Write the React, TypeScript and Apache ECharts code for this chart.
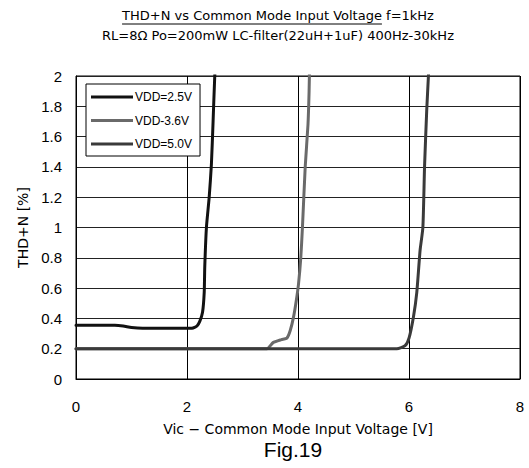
import React, { useEffect, useRef } from "react";
import * as echarts from "echarts";

const titleMain = "THD+N vs Common Mode Input Voltage";
const titleTail = " f=1kHz";
const subTitle = "RL=8Ω Po=200mW LC-filter(22uH+1uF) 400Hz-30kHz";
const xAxisName = "Vic − Common Mode Input Voltage [V]";
const yAxisName = "THD+N [%]";
const figLabel = "Fig.19";

const seriesNames = ["VDD=2.5V", "VDD-3.6V", "VDD=5.0V"];

const v25X = [0, 0.7, 0.85, 1.0, 1.2, 2.05, 2.11, 2.18, 2.23, 2.28, 2.31, 2.32, 2.35, 2.4, 2.44, 2.47, 2.5, 2.52];
const v25Y = [0.355, 0.355, 0.35, 0.34, 0.335, 0.335, 0.337, 0.35, 0.38, 0.44, 0.57, 0.74, 1.0, 1.2, 1.42, 1.7, 2.0, 2.1];

const v36X = [0, 3.44, 3.55, 3.7, 3.8, 3.86, 3.92, 3.97, 4.01, 4.05, 4.08, 4.13, 4.18, 4.2, 4.21];
const v36Y = [0.2, 0.2, 0.24, 0.26, 0.27, 0.32, 0.41, 0.52, 0.63, 0.8, 1.0, 1.4, 1.68, 1.9, 2.1];

const v50X = [0, 5.78, 5.93, 6.0, 6.08, 6.14, 6.2, 6.25, 6.28, 6.32, 6.35, 6.36];
const v50Y = [0.2, 0.2, 0.22, 0.27, 0.41, 0.57, 0.85, 1.0, 1.4, 1.78, 2.0, 2.1];

const seriesColors = ["#111111", "#6a6a6a", "#3a3a3a"];

const zip = (xs: number[], ys: number[]) => xs.map((x, i) => [x, ys[i]]);

export default function App() {
  const ref = useRef<HTMLDivElement>(null);
  useEffect(() => {
    if (!ref.current) return;
    const chart = echarts.init(ref.current, undefined, { renderer: "svg" });
    const titleFont = '13px "DejaVu Sans"';
    const cv = document.createElement("canvas").getContext("2d")!;
    cv.font = titleFont;
    const wMain = cv.measureText(titleMain).width;
    const wTail = cv.measureText(titleTail).width;
    const centerX = 278;
    const startX = centerX - (wMain + wTail) / 2;

    const datas = [zip(v25X, v25Y), zip(v36X, v36Y), zip(v50X, v50Y)];

    chart.setOption({
      animation: false,
      backgroundColor: "#fff",
      grid: {
        left: 76,
        right: 9,
        top: 76,
        bottom: 89,
        show: true,
        borderColor: "#000",
        borderWidth: 1,
      },
      legend: {
        orient: "vertical",
        left: 86,
        top: 84,
        backgroundColor: "#fff",
        borderColor: "#000",
        borderWidth: 1,
        borderRadius: 0,
        padding: [6, 8, 5, 5],
        itemGap: 9.5,
        itemWidth: 42,
        itemHeight: 3,
        icon: "path://M0,0H42V3H0Z",
        data: seriesNames,
        textStyle: { fontFamily: "Liberation Sans", fontSize: 12, color: "#000", padding: [0, 0, 0, -3], lineHeight: 14 },
      },
      xAxis: {
        type: "value",
        min: 0,
        max: 8,
        interval: 2,
        name: xAxisName,
        nameLocation: "middle",
        nameGap: 43,
        nameTextStyle: { fontFamily: "DejaVu Sans", fontSize: 14, color: "#000" },
        axisLine: { show: true, lineStyle: { color: "#000" } },
        axisTick: { show: false },
        axisLabel: { fontFamily: "Liberation Sans", fontSize: 15, color: "#000", margin: 20 },
        splitLine: { show: true, lineStyle: { color: "#000", width: 1 } },
      },
      yAxis: {
        type: "value",
        min: 0,
        max: 2,
        interval: 0.2,
        name: yAxisName,
        nameLocation: "middle",
        nameGap: 38,
        nameTextStyle: { fontFamily: "DejaVu Sans", fontSize: 14, color: "#000" },
        axisLine: { show: true, lineStyle: { color: "#000" } },
        axisTick: { show: false },
        axisLabel: {
          fontFamily: "Liberation Sans",
          fontSize: 15,
          color: "#000",
          margin: 14,
          formatter: (v: number) => String(Math.round(v * 10) / 10),
        },
        splitLine: { show: true, lineStyle: { color: "#222", width: 1 } },
      },
      series: seriesNames.map((n, i) => ({
        name: n,
        type: "line",
        data: datas[i],
        symbol: "none",
        showSymbol: false,
        smooth: 0.2,
        clip: true,
        color: seriesColors[i],
        lineStyle: { color: seriesColors[i], width: 3, join: "round", cap: "round" },
      })),
      graphic: [
        {
          type: "text",
          left: startX,
          top: 9,
          style: { text: titleMain, font: titleFont, fill: "#000" },
        },
        {
          type: "text",
          left: startX + wMain,
          top: 9,
          style: { text: titleTail, font: titleFont, fill: "#000" },
        },
        {
          type: "line",
          shape: { x1: startX, y1: 24, x2: startX + wMain, y2: 24 },
          style: { stroke: "#000", lineWidth: 1 },
        },
        {
          type: "text",
          x: centerX,
          y: 35,
          style: { text: subTitle, font: titleFont, fill: "#000", align: "center", verticalAlign: "middle" },
        },
        {
          type: "text",
          x: 293,
          y: 449,
          style: { text: figLabel, font: '21px "Liberation Sans"', fill: "#000", align: "center", verticalAlign: "middle" },
        },
      ],
    });
    return () => chart.dispose();
  }, []);
  return <div ref={ref} style={{ width: 529, height: 468, position: "absolute", left: 0, top: 0 }} />;
}
